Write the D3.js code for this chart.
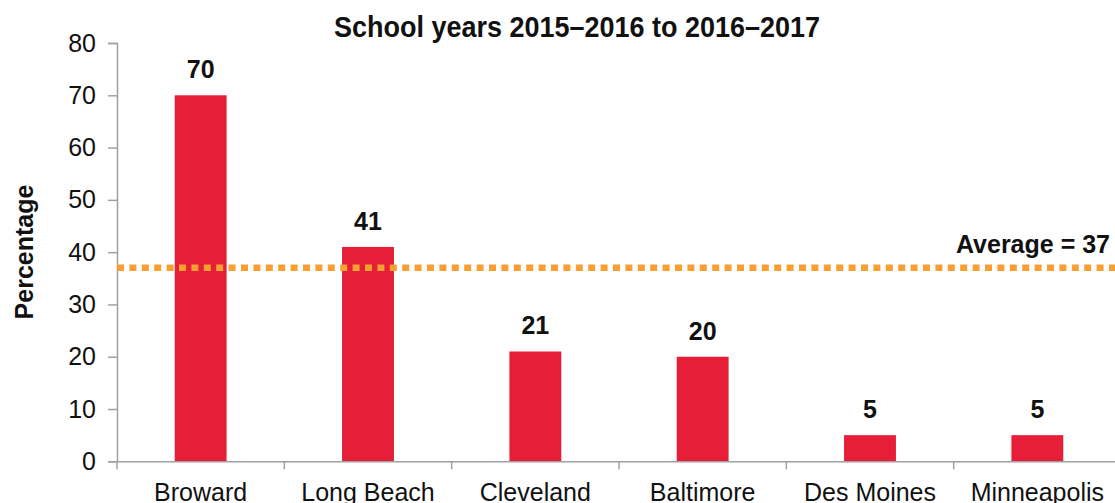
<!DOCTYPE html>
<html>
<head>
<meta charset="utf-8">
<script src="https://cdn.jsdelivr.net/npm/d3@7"></script>
<style>
  body { margin: 0; background: #fff; }
  text { font-family: "Liberation Sans", Arial, sans-serif; }
</style>
</head>
<body>
<div id="chart"></div>
<script>
// data
var districts = ["Broward", "Long Beach", "Cleveland", "Baltimore", "Des Moines", "Minneapolis"];
var percentages = [70, 41, 21, 20, 5, 5];
var average = 37;
var yTicks = [0, 10, 20, 30, 40, 50, 60, 70, 80];
var title = "School years 2015\u20132016 to 2016\u20132017";

var svgWidth = 1115, svgHeight = 503;
var margin = { top: 43, left: 117 };
var plotRight = 1121, plotBottom = 461.3;

var svg = d3.select("#chart")
    .append("svg")
    .attr("width", svgWidth)
    .attr("height", svgHeight);

// scales
var xScale = d3.scaleBand()
    .domain(districts)
    .range([margin.left, plotRight]);

var yScale = d3.scaleLinear()
    .domain([0, 80])
    .range([plotBottom, margin.top]);

var barWidth = xScale.bandwidth() * 0.31;

// bars
svg.selectAll("rect.bar")
    .data(percentages)
    .enter()
    .append("rect")
    .attr("class", "bar")
    .attr("x", (d, i) => xScale(districts[i]) + (xScale.bandwidth() - barWidth) / 2)
    .attr("y", d => yScale(d))
    .attr("width", barWidth)
    .attr("height", d => plotBottom - yScale(d))
    .attr("fill", "#E61E38");

// value labels
svg.selectAll("text.value")
    .data(percentages)
    .enter()
    .append("text")
    .attr("class", "value")
    .attr("x", (d, i) => xScale(districts[i]) + xScale.bandwidth() / 2)
    .attr("y", d => yScale(d) - 17)
    .attr("text-anchor", "middle")
    .attr("font-size", "25px")
    .attr("font-weight", "bold")
    .attr("fill", "#111")
    .text(d => d);

// y axis
var yAxis = d3.axisLeft(yScale)
    .tickValues(yTicks)
    .tickSize(9)
    .tickPadding(12);

var yG = svg.append("g")
    .attr("transform", `translate(${margin.left}, 0)`)
    .call(yAxis);
yG.select(".domain").attr("stroke", "#a0a0a0").attr("stroke-width", 1.5);
yG.selectAll(".tick line").attr("stroke", "#a0a0a0").attr("stroke-width", 1.5);
yG.selectAll(".tick text")
    .attr("font-size", "25px")
    .attr("fill", "#111")
    .style("font-family", "'Liberation Sans', Arial, sans-serif");

// x axis (labels centred, ticks on band edges)
var xAxis = d3.axisBottom(xScale).tickSize(0).tickPadding(22);
var xG = svg.append("g")
    .attr("transform", `translate(0, ${plotBottom})`)
    .call(xAxis);
xG.select(".domain").attr("stroke", "#a0a0a0").attr("stroke-width", 1.5);
xG.selectAll(".tick text")
    .attr("font-size", "25px")
    .attr("fill", "#111")
    .style("font-family", "'Liberation Sans', Arial, sans-serif");

xG.selectAll("line.edge")
    .data(districts.concat(["end"]))
    .enter()
    .append("line")
    .attr("class", "edge")
    .attr("x1", (d, i) => i < districts.length ? xScale(d) : plotRight)
    .attr("x2", (d, i) => i < districts.length ? xScale(d) : plotRight)
    .attr("y1", 0)
    .attr("y2", 8)
    .attr("stroke", "#a0a0a0")
    .attr("stroke-width", 1.5);

// average line
svg.append("line")
    .attr("x1", margin.left)
    .attr("x2", svgWidth)
    .attr("y1", yScale(average))
    .attr("y2", yScale(average))
    .attr("stroke", "#F7A031")
    .attr("stroke-width", 6.5)
    .attr("stroke-dasharray", "7,5.4");

svg.append("text")
    .attr("x", 1110)
    .attr("y", yScale(average) - 15)
    .attr("text-anchor", "end")
    .attr("font-size", "25px")
    .attr("font-weight", "bold")
    .attr("fill", "#111")
    .text("Average = " + average);

// title (slightly condensed, taller glyphs like the original)
svg.append("text")
    .attr("transform", "translate(577, 37) scale(0.9, 1)")
    .attr("text-anchor", "middle")
    .attr("font-size", "30px")
    .attr("font-weight", "bold")
    .attr("fill", "#111")
    .text(title);

// y axis title
svg.append("text")
    .attr("transform", "translate(33, 252) rotate(-90)")
    .attr("text-anchor", "middle")
    .attr("font-size", "25px")
    .attr("font-weight", "bold")
    .attr("fill", "#111")
    .text("Percentage");
</script>
</body>
</html>
